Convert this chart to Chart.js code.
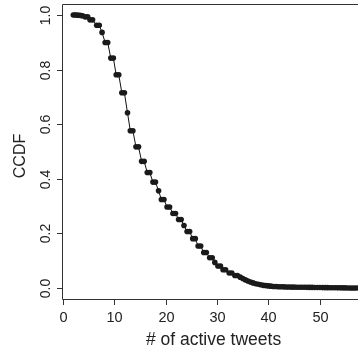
<!DOCTYPE html>
<html lang="en">
<head>
  <meta charset="UTF-8">
  <title>CCDF of active tweets</title>
  <script src="https://cdn.jsdelivr.net/npm/chart.js"></script>
  <style>
    html, body { margin: 0; padding: 0; background: #fff; }
    #wrap { width: 362px; height: 351px; position: relative; }
  </style>
</head>
<body>
  <div id="wrap"><canvas id="ccdfChart"></canvas></div>

  <script>
    // values (x = # of active tweets, y = CCDF)
    const tweets = [
      2.0, 2.3, 2.6, 2.9, 3.2, 3.5, 3.8, 4.3, 4.8, 5.25, 5.75, 6.55, 7.05, 7.6,
      8.2, 8.7, 9.3, 9.8, 10.35, 10.85, 11.45, 11.95, 12.55, 13.1, 13.6,
      14.2, 14.7, 15.3, 15.8, 16.4, 16.9, 17.5, 18.0, 18.6, 19.15, 19.65,
      20.25, 20.75, 21.4, 21.9, 22.5, 23.0, 23.55, 24.15, 24.65, 25.25, 25.75,
      26.3, 26.8, 27.4, 27.9, 28.55, 29.05, 29.55, 30.15, 30.65, 31.15, 31.65,
      32.35, 32.85, 33.45, 33.95, 34.5, 35.0, 35.5, 36.0, 36.5, 37.0, 37.5, 38.0,
      38.5, 39.0, 39.5, 40.0, 40.5, 41.0, 41.5, 42.0, 42.5, 43.0, 43.5, 44.0,
      44.5, 45.0, 45.5, 46.0, 46.5, 47.0, 47.5, 48.0, 48.5, 49.0, 49.5, 50.0,
      50.5, 51.0, 51.5, 52.0, 52.5, 53.0, 53.5, 54.0, 54.5, 55.0, 55.5, 56.0,
      56.5, 57.0, 57.5
    ];
    const ccdf = [
      1.000, 1.000, 1.000, 0.999, 0.999, 0.998, 0.997, 0.993, 0.993, 0.982, 0.982, 0.962, 0.962, 0.936,
      0.899, 0.899, 0.842, 0.842, 0.781, 0.781, 0.715, 0.715, 0.642, 0.576, 0.576,
      0.517, 0.517, 0.464, 0.464, 0.423, 0.423, 0.388, 0.388, 0.356, 0.324, 0.324,
      0.297, 0.297, 0.273, 0.273, 0.251, 0.251, 0.229, 0.207, 0.207, 0.181, 0.181,
      0.154, 0.154, 0.130, 0.130, 0.111, 0.111, 0.094, 0.081, 0.081, 0.067, 0.067,
      0.055, 0.055, 0.046, 0.046, 0.040, 0.035, 0.030, 0.026, 0.022, 0.019, 0.016, 0.014,
      0.012, 0.010, 0.009, 0.008, 0.007, 0.006, 0.006, 0.005, 0.005, 0.0045, 0.004, 0.004,
      0.0035, 0.0035, 0.003, 0.003, 0.003, 0.0028, 0.0026, 0.0025, 0.0024, 0.0022, 0.002, 0.002,
      0.0018, 0.0016, 0.0015, 0.0014, 0.0012, 0.001, 0.0009, 0.0008, 0.0007, 0.0006, 0.0005, 0.0004,
      0.0003, 0.0002, 0.0001
    ];

    const xTicks = [0, 10, 20, 30, 40, 50];
    const yTicks = [0, 0.2, 0.4, 0.6, 0.8, 1.0];
    const yTickLabels = ['0.0', '0.2', '0.4', '0.6', '0.8', '1.0'];
    const xTitle = '# of active tweets';
    const yTitle = 'CCDF';

    const FONT = '"Liberation Sans", Arial, Helvetica, sans-serif';

    // R style frame, ticks and labels drawn from the chart's scales
    const rAxes = {
      id: 'rAxes',
      afterDraw(chart) {
        const { ctx, chartArea: a, scales: { x, y } } = chart;
        ctx.save();
        ctx.strokeStyle = '#333';
        ctx.lineWidth = 1;
        // box (right side is cut off by the picture)
        ctx.beginPath();
        ctx.moveTo(a.right, a.top + 0.5);
        ctx.lineTo(a.left + 0.5, a.top + 0.5);
        ctx.lineTo(a.left + 0.5, a.bottom + 0.5);
        ctx.lineTo(a.right, a.bottom + 0.5);
        ctx.stroke();

        ctx.fillStyle = '#222';
        ctx.textAlign = 'center';
        ctx.textBaseline = 'alphabetic';

        // x ticks
        ctx.font = '14.5px ' + FONT;
        xTicks.forEach(v => {
          const px = Math.round(x.getPixelForValue(v)) + 0.5;
          ctx.beginPath();
          ctx.moveTo(px, a.bottom);
          ctx.lineTo(px, a.bottom + 6);
          ctx.stroke();
          ctx.fillText(String(v), px, a.bottom + 22.5);
        });

        // y ticks, labels turned like R does
        ctx.font = '14px ' + FONT;
        yTicks.forEach((v, i) => {
          const py = Math.round(y.getPixelForValue(v)) + 0.5;
          ctx.beginPath();
          ctx.moveTo(a.left - 5, py);
          ctx.lineTo(a.left, py);
          ctx.stroke();
          ctx.save();
          ctx.translate(a.left - 12.5, py);
          ctx.rotate(-Math.PI / 2);
          ctx.fillText(yTickLabels[i], 0, 0);
          ctx.restore();
        });

        // titles
        ctx.font = '17.5px ' + FONT;
        ctx.fillText(xTitle, x.getPixelForValue(29.5) - 1, a.bottom + 46);
        ctx.font = '16px ' + FONT;
        ctx.save();
        ctx.translate(25, 156);
        ctx.rotate(-Math.PI / 2);
        ctx.fillText(yTitle, 0, 0);
        ctx.restore();
        ctx.restore();
      }
    };

    const ctx = document.getElementById('ccdfChart').getContext('2d');
    const ccdfChart = new Chart(ctx, {
      type: 'line',
      data: {
        datasets: [{
          label: yTitle,
          data: tweets.map((t, i) => ({ x: t, y: ccdf[i] })),
          borderColor: '#111',
          borderWidth: 1,
          pointRadius: 2.8,
          pointBorderWidth: 0,
          pointBackgroundColor: '#1a1a1a',
          tension: 0,
          fill: false
        }]
      },
      options: {
        responsive: true,
        maintainAspectRatio: false,
        animation: false,
        events: [],
        layout: { padding: { left: 62, top: 3, right: 0, bottom: 52 } },
        plugins: { legend: { display: false }, tooltip: { enabled: false } },
        scales: {
          x: { type: 'linear', min: -0.2, max: 57.43, display: false },
          y: { type: 'linear', min: -0.04, max: 1.04, display: false }
        }
      },
      plugins: [rAxes]
    });
  </script>
</body>
</html>
